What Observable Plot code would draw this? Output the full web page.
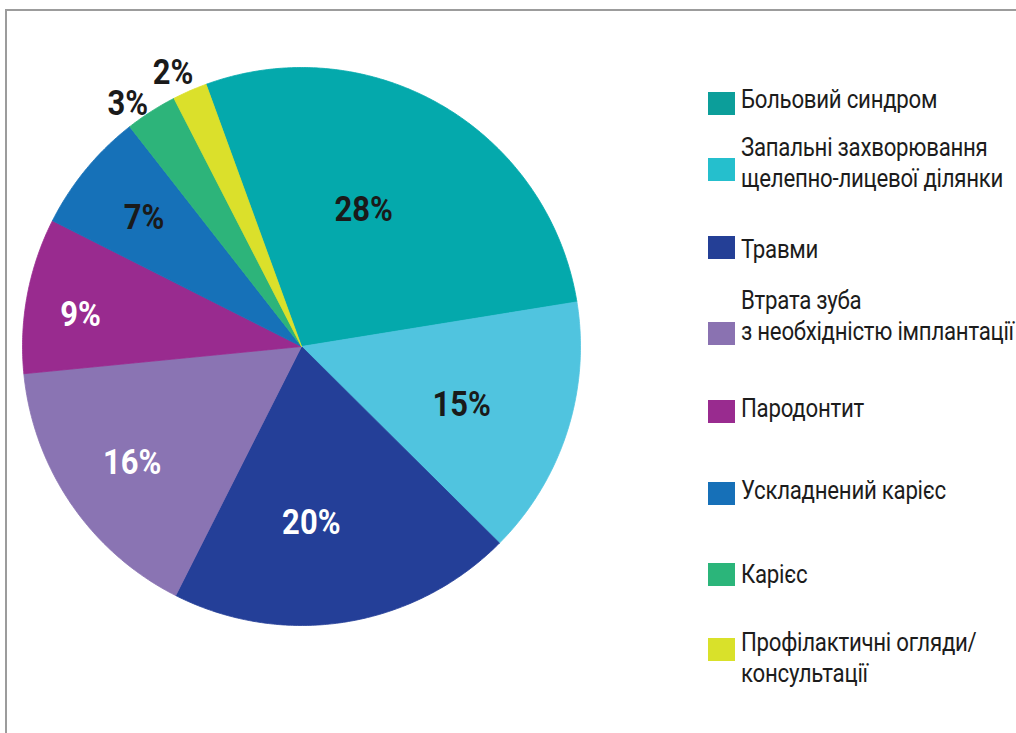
<!DOCTYPE html>
<html>
<head>
<meta charset="utf-8">
<script src="https://cdn.jsdelivr.net/npm/d3@7"></script>
<script src="https://cdn.jsdelivr.net/npm/@observablehq/plot@0.6"></script>
<style>
  html, body { margin: 0; padding: 0; background: #fff; }
  #wrap { position: relative; width: 1016px; height: 733px; overflow: hidden; background: #fff; }
  #frame { position: absolute; left: 5px; top: 9px; width: 1100px; height: 800px; border: 2px solid #9c9c9c; box-sizing: border-box; pointer-events: none; }
  .lg-sw { position: absolute; width: 27px; height: 23px; }
  .lg-tx { position: absolute; left: 741px; font-family: Roboto, "Noto Sans", sans-serif; font-size: 26px; line-height: 31px; letter-spacing: -0.3px; color: #1c1c1c; white-space: nowrap; transform: scaleX(0.855); transform-origin: 0 0; }
</style>
</head>
<body>
<div id="wrap"><div id="chart"></div><div id="legend"></div><div id="frame"></div></div>
<script>
// ---- data ----
const categories = [
  "Больовий синдром",
  "Запальні захворювання щелепно-лицевої ділянки",
  "Травми",
  "Втрата зуба з необхідністю імплантації",
  "Пародонтит",
  "Ускладнений карієс",
  "Карієс",
  "Профілактичні огляди/консультації"
];
const values = [28, 15, 20, 16, 9, 7, 3, 2];
const percentLabels = ["28%", "15%", "20%", "16%", "9%", "7%", "3%", "2%"];
const legendLines = [
  ["Больовий синдром"],
  ["Запальні захворювання", "щелепно-лицевої ділянки"],
  ["Травми"],
  ["Втрата зуба", "з необхідністю імплантації"],
  ["Пародонтит"],
  ["Ускладнений карієс"],
  ["Карієс"],
  ["Профілактичні огляди/", "консультації"]
];

// ---- styles / layout ----
const colors = ["#04a9ac", "#50c4df", "#243f98", "#8a74b3", "#992b8f", "#1671b8", "#2db47a", "#dbe02b"];
const legendColors = ["#0c9e9a", "#25bfcd", "#243f96", "#8a72b1", "#992b8f", "#1670b8", "#2bb57a", "#d9e12a"];
const labelColors = ["#1a1a1a", "#1a1a1a", "#ffffff", "#ffffff", "#ffffff", "#1a1a1a", "#1a1a1a", "#1a1a1a"];
const labelRadius = [0.54, 0.61, 0.63, 0.735, 0.8, 0.73, 1.07, 1.085];
const labelAngleShift = [-6, 2, 6, 0, -2.3, 0, -3, -1.5]; // degrees
const startDeg = -20;
const W = 1016, H = 733, CX = 301, CY = 346, R = 279;
const legendSwatchTop = [92, 158, 236, 322, 400, 482, 563, 638];
const legendTextTop = [84, 132, 234, 285, 393, 475, 559, 627];

// ---- pie geometry via d3.pie ----
const arcs = d3.pie().sort(null).value(d => d)
  .startAngle(startDeg * Math.PI / 180)
  .endAngle(startDeg * Math.PI / 180 + 2 * Math.PI)(values);

const slicePts = [];
arcs.forEach((a, i) => {
  const cat = categories[i];
  slicePts.push({cat, x: 0, y: 0});
  const n = Math.max(4, Math.ceil((a.endAngle - a.startAngle) / (Math.PI / 360)));
  for (let k = 0; k <= n; k++) {
    const t = a.startAngle + (a.endAngle - a.startAngle) * k / n;
    slicePts.push({cat, x: Math.sin(t), y: Math.cos(t)});
  }
  slicePts.push({cat, x: 0, y: 0});
});

const labels = arcs.map((a, i) => {
  const m = (a.startAngle + a.endAngle) / 2 + labelAngleShift[i] * Math.PI / 180;
  return {cat: categories[i], text: percentLabels[i], x: labelRadius[i] * Math.sin(m), y: labelRadius[i] * Math.cos(m), color: labelColors[i]};
});

const chart = Plot.plot({
  width: W, height: H, margin: 0,
  style: {background: "transparent"},
  x: {domain: [-CX / R, (W - CX) / R], axis: null},
  y: {domain: [-(H - CY) / R, CY / R], axis: null},
  color: {domain: categories, range: colors},
  marks: [
    Plot.line(slicePts, {x: "x", y: "y", z: "cat", fill: "cat", stroke: "cat", strokeWidth: 0.8, curve: "linear"}),
    Plot.text(labels, {x: "x", y: "y", text: "text", fill: "color",
      fontSize: 36, fontWeight: "bold", fontFamily: "Roboto, 'Noto Sans', sans-serif",
      className: "pct"})
  ]
});
document.getElementById("chart").appendChild(chart);

// condense the percentage labels horizontally (no condensed font installed)
d3.select(chart).selectAll("text").each(function() {
  const t = this.getAttribute("transform");
  if (t) {
    this.setAttribute("transform", t + " scale(0.86,1)");
  } else {
    const x = +this.getAttribute("x") || 0, y = +this.getAttribute("y") || 0;
    this.removeAttribute("x"); this.removeAttribute("y");
    this.setAttribute("transform", `translate(${x},${y}) scale(0.86,1)`);
  }
});

// ---- legend ----
const lg = document.getElementById("legend");
categories.forEach((c, i) => {
  const sw = document.createElement("div");
  sw.className = "lg-sw";
  sw.style.left = "708px";
  sw.style.top = legendSwatchTop[i] + "px";
  sw.style.background = legendColors[i];
  lg.appendChild(sw);
  const tx = document.createElement("div");
  tx.className = "lg-tx";
  tx.style.top = legendTextTop[i] + "px";
  tx.innerHTML = legendLines[i].join("<br>");
  lg.appendChild(tx);
});
</script>
</body>
</html>
